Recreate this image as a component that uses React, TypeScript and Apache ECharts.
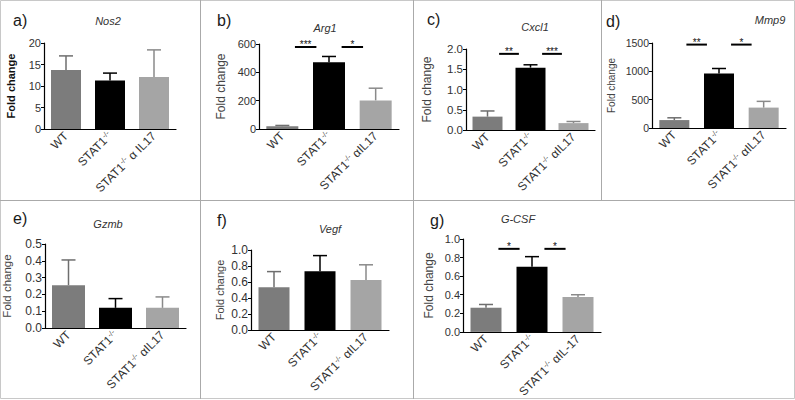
import React, { useEffect, useRef } from "react";
import * as echarts from "echarts";

// ---- data ----
const catsA = ["WT", "STAT1-/-", "STAT1-/- α IL17"];
const catsB = ["WT", "STAT1-/-", "STAT1-/- αIL17"];
const catsE = ["WT", "STAT1-/-", "STAT1-/- αIL17"];
const catsG = ["WT", "STAT1-/-", "STAT1-/- αIL-17"];

const nos2 = [13.7, 11.3, 12.1];
const nos2Err = [3.3, 1.7, 6.3];
const arg1 = [20, 472, 202];
const arg1Err = [5, 40, 86];
const cxcl1 = [0.33, 1.54, 0.17];
const cxcl1Err = [0.14, 0.07, 0.04];
const mmp9 = [140, 960, 360];
const mmp9Err = [40, 90, 110];
const gzmb = [0.255, 0.12, 0.12];
const gzmbErr = [0.15, 0.055, 0.065];
const vegf = [0.535, 0.735, 0.625];
const vegfErr = [0.195, 0.195, 0.19];
const gcsf = [0.26, 0.7, 0.375];
const gcsfErr = [0.035, 0.11, 0.025];

const sigArg1: [number, number, string][] = [[0, 1, "***"], [1, 2, "*"]];
const sigArg1Y = 579;
const sigCxcl1: [number, number, string][] = [[0, 1, "**"], [1, 2, "***"]];
const sigCxcl1Y = 1.88;
const sigMmp9: [number, number, string][] = [[0, 1, "**"], [1, 2, "*"]];
const sigMmp9Y = 1472;
const sigGcsf: [number, number, string][] = [[0, 1, "*"], [1, 2, "*"]];
const sigGcsfY = 0.894;

const yMaxes = [20, 600, 2, 1500, 0.5, 1, 1];
const yIntervals = [5, 200, 0.5, 500, 0.1, 0.2, 0.2];
const yDecimals = [0, 0, 1, 0, 1, 1, 1];

const letters = ["a)", "b)", "c)", "d)", "e)", "f)", "g)"];
const genes = ["Nos2", "Arg1", "Cxcl1", "Mmp9", "Gzmb", "Vegf", "G-CSF"];

// ---- styles / layout ----
const FONT = "Liberation Sans, Arial, sans-serif";
const barColors = ["#7c7c7c", "#000000", "#a5a5a5"];
const errColors = ["#6e6e6e", "#000000", "#8a8a8a"];

const panels = [
  { cats: catsA, vals: nos2, errs: nos2Err, sig: null as any, sigY: 0, left: 44, top: 43, width: 132, height: 86, nameGap: 28, nameBold: true, nameSize: 11, tickSize: 11, barW: 30, lx: 13, ly: 20, tx: 108, ty: 21 },
  { cats: catsB, vals: arg1, errs: arg1Err, sig: sigArg1, sigY: sigArg1Y, left: 259, top: 44, width: 140, height: 85, nameGap: 32, nameBold: false, nameSize: 12, tickSize: 11, barW: 32, lx: 217, ly: 20, tx: 325, ty: 28 },
  { cats: catsB, vals: cxcl1, errs: cxcl1Err, sig: sigCxcl1, sigY: sigCxcl1Y, left: 466, top: 49, width: 129, height: 81, nameGap: 33, nameBold: false, nameSize: 12, tickSize: 11.5, barW: 30, lx: 427, ly: 19, tx: 535, ty: 27 },
  { cats: catsB, vals: mmp9, errs: mmp9Err, sig: sigMmp9, sigY: sigMmp9Y, left: 652, top: 43, width: 134, height: 85, nameGap: 36, nameBold: false, nameSize: 10, tickSize: 10.5, barW: 30, lx: 606, ly: 21, tx: 770, ty: 20 },
  { cats: catsE, vals: gzmb, errs: gzmbErr, sig: null as any, sigY: 0, left: 45, top: 244, width: 141, height: 84, nameGap: 32, nameBold: false, nameSize: 11.5, tickSize: 12, barW: 33, lx: 13, ly: 218, tx: 108, ty: 224 },
  { cats: catsE, vals: vegf, errs: vegfErr, sig: null as any, sigY: 0, left: 251, top: 250, width: 138, height: 80, nameGap: 26, nameBold: false, nameSize: 11, tickSize: 12, barW: 31, lx: 217, ly: 220, tx: 330, ty: 229 },
  { cats: catsG, vals: gcsf, errs: gcsfErr, sig: sigGcsf, sigY: sigGcsfY, left: 463, top: 239, width: 138, height: 93, nameGap: 28, nameBold: false, nameSize: 12, tickSize: 11, barW: 31, lx: 430, ly: 220, tx: 518, ty: 219 },
];

const fmtCat = (v: string) =>
  v
    .split("-/-")
    .map((p) => (p ? `{t|${p}}` : ""))
    .join("{s|-/-}");

export default function App() {
  const ref = useRef<HTMLDivElement>(null);
  useEffect(() => {
    if (!ref.current) return;
    const chart = echarts.init(ref.current, undefined, { renderer: "svg" });

    const grid: any[] = [];
    const xAxis: any[] = [];
    const yAxis: any[] = [];
    const series: any[] = [];

    panels.forEach((p, i) => {
      grid.push({ left: p.left, top: p.top, width: p.width, height: p.height, containLabel: false });
      xAxis.push({
        type: "category",
        gridIndex: i,
        data: p.cats,
        axisLine: { lineStyle: { color: "#000", width: 1.2 } },
        axisTick: { show: false },
        axisLabel: {
          rotate: 45,
          margin: 5,
          interval: 0,
          formatter: fmtCat,
          rich: {
            t: { fontSize: 12, color: "#333", fontFamily: FONT, lineHeight: 14 },
            s: { fontSize: 7.5, color: "#333", fontFamily: FONT, verticalAlign: "top", lineHeight: 8 },
          },
        },
      });
      yAxis.push({
        type: "value",
        gridIndex: i,
        min: 0,
        max: yMaxes[i],
        interval: yIntervals[i],
        splitLine: { show: false },
        axisLine: { show: true, lineStyle: { color: "#000", width: 1.2 } },
        axisTick: { show: true, length: 3, lineStyle: { color: "#000" } },
        axisLabel: {
          margin: 3,
          fontSize: p.tickSize,
          color: "#333",
          fontFamily: FONT,
          formatter: (v: number) => v.toFixed(yDecimals[i]),
        },
        name: "Fold change",
        nameLocation: "middle",
        nameRotate: 90,
        nameGap: p.nameGap,
        nameTextStyle: {
          fontSize: p.nameSize,
          fontWeight: p.nameBold ? 700 : 400,
          color: p.nameBold ? "#111" : "#444",
          fontFamily: FONT,
        },
      });
      series.push({
        type: "bar",
        xAxisIndex: i,
        yAxisIndex: i,
        barWidth: p.barW,
        data: p.vals.map((v, k) => ({ value: v, itemStyle: { color: barColors[k] } })),
        z: 2,
      });
      series.push({
        type: "custom",
        xAxisIndex: i,
        yAxisIndex: i,
        z: 3,
        itemStyle: { color: "#000" },
        encode: { x: 0, y: 1 },
        data: p.vals.map((v, k) => [k, v, v + p.errs[k]]),
        renderItem: (params: any, api: any) => {
          const k = api.value(0);
          const a = api.coord([k, api.value(1)]);
          const b = api.coord([k, api.value(2)]);
          const c = errColors[k];
          return {
            type: "group",
            children: [
              { type: "line", shape: { x1: a[0], y1: a[1], x2: b[0], y2: b[1] }, style: { stroke: c, lineWidth: 1.5 } },
              { type: "line", shape: { x1: b[0] - 7, y1: b[1], x2: b[0] + 7, y2: b[1] }, style: { stroke: c, lineWidth: 1.5 } },
            ],
          };
        },
      });
      if (p.sig) {
        const sig = p.sig as [number, number, string][];
        series.push({
          type: "custom",
          xAxisIndex: i,
          yAxisIndex: i,
          z: 4,
          clip: false,
          itemStyle: { color: "#000" },
          encode: { x: 0, y: 2 },
          data: sig.map((s) => [s[0], s[1], p.sigY]),
          renderItem: (params: any, api: any) => {
            const a = api.coord([api.value(0), api.value(2)]);
            const b = api.coord([api.value(1), api.value(2)]);
            const mid = (a[0] + b[0]) / 2;
            const half = (b[0] - a[0]) * 0.23;
            return {
              type: "group",
              children: [
                { type: "line", shape: { x1: mid - half, y1: a[1], x2: mid + half, y2: a[1] }, style: { stroke: "#000", lineWidth: 2 } },
                {
                  type: "text",
                  x: mid,
                  y: a[1] - 2,
                  style: { text: sig[params.dataIndex][2], fontSize: 10, fill: "#111", fontFamily: FONT, textAlign: "center", textVerticalAlign: "middle" },
                },
              ],
            };
          },
        });
      }
    });

    const graphic: any[] = [
      { type: "rect", shape: { x: 0.5, y: 0.5, width: 794, height: 398 }, style: { fill: "none", stroke: "#c8c8c8", lineWidth: 1 }, silent: true },
      { type: "line", shape: { x1: 0, y1: 200.5, x2: 795, y2: 200.5 }, style: { stroke: "#aaaaaa", lineWidth: 1 } },
      { type: "line", shape: { x1: 200.5, y1: 0, x2: 200.5, y2: 399 }, style: { stroke: "#aaaaaa", lineWidth: 1 } },
      { type: "line", shape: { x1: 413.5, y1: 0, x2: 413.5, y2: 399 }, style: { stroke: "#aaaaaa", lineWidth: 1 } },
      { type: "line", shape: { x1: 601.5, y1: 0, x2: 601.5, y2: 200 }, style: { stroke: "#aaaaaa", lineWidth: 1 } },
    ];
    panels.forEach((p, i) => {
      graphic.push({
        type: "text",
        x: p.lx,
        y: p.ly,
        style: { text: letters[i], fontSize: 16, fill: "#1a1a1a", fontFamily: FONT, textVerticalAlign: "middle" },
      });
      graphic.push({
        type: "text",
        x: p.tx,
        y: p.ty,
        style: { text: genes[i], fontSize: 11, fontStyle: "italic", fill: "#333", fontFamily: FONT, textAlign: "center", textVerticalAlign: "middle" },
      });
    });

    chart.setOption({
      animation: false,
      backgroundColor: "#ffffff",
      grid,
      xAxis,
      yAxis,
      series,
      graphic,
    });
    return () => chart.dispose();
  }, []);
  return <div ref={ref} style={{ position: "fixed", left: 0, top: 0, width: 795, height: 400 }} />;
}
